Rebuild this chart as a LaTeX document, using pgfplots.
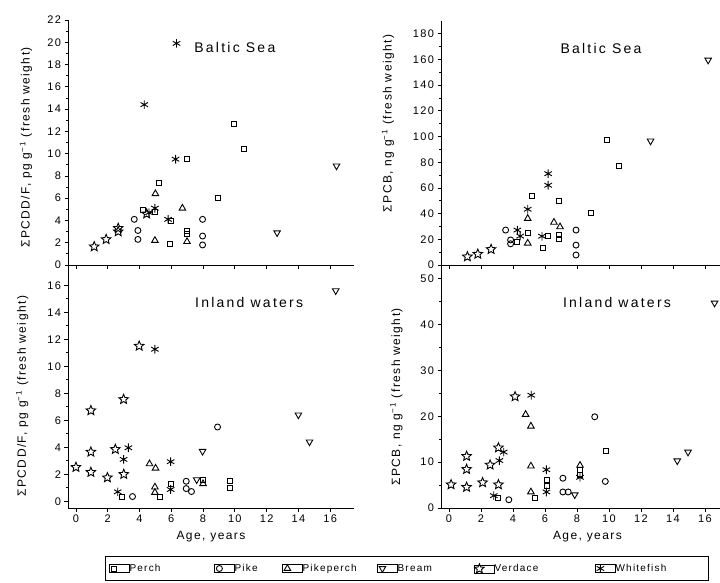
\documentclass[border=0pt]{standalone}
\usepackage{fontspec}
\setmainfont{Liberation Sans}[LetterSpace=12]
\newfontfamily\spaced{Liberation Sans}[LetterSpace=16]
\usepackage{pgfplots}
\pgfplotsset{compat=1.18}
\usetikzlibrary{plotmarks}
\pgfdeclareplotmark{ostar}{%
  \pgfpathmoveto{\pgfqpointpolar{90}{\pgfplotmarksize}}%
  \pgfpathlineto{\pgfqpointpolar{126}{0.45\pgfplotmarksize}}%
  \pgfpathlineto{\pgfqpointpolar{162}{\pgfplotmarksize}}%
  \pgfpathlineto{\pgfqpointpolar{198}{0.45\pgfplotmarksize}}%
  \pgfpathlineto{\pgfqpointpolar{234}{\pgfplotmarksize}}%
  \pgfpathlineto{\pgfqpointpolar{270}{0.45\pgfplotmarksize}}%
  \pgfpathlineto{\pgfqpointpolar{306}{\pgfplotmarksize}}%
  \pgfpathlineto{\pgfqpointpolar{342}{0.45\pgfplotmarksize}}%
  \pgfpathlineto{\pgfqpointpolar{18}{\pgfplotmarksize}}%
  \pgfpathlineto{\pgfqpointpolar{54}{0.45\pgfplotmarksize}}%
  \pgfpathclose
  \pgfusepathqstroke
}
\pgfplotsset{
  panel/.style={
    scale only axis,
    axis lines=left,
    axis line style={-, line width=0.9pt},
    tick align=outside,
    major tick length=3.5pt,
    minor tick length=2pt,
    every tick/.style={black, line width=0.8pt},
    tick label style={font=\fontsize{11}{13}\selectfont},
    /pgf/number format/assume math mode=true,
    xtick={0,2,...,16},
    label style={font=\fontsize{12}{14}\selectfont},
    clip=false,
  },
  perch/.style={only marks, mark=square, mark size=2.5pt, mark options={line width=0.9pt, black}},
  pike/.style={only marks, mark=o, mark size=3pt, mark options={line width=0.9pt, black}},
  pikeperch/.style={only marks, mark=triangle, mark size=3.8pt, mark options={line width=0.9pt, black}},
  bream/.style={only marks, mark=triangle, mark size=3.8pt, mark options={line width=0.9pt, black, rotate=180}},
  verdace/.style={only marks, mark=ostar, mark size=5pt, mark options={line width=0.9pt, black}},
  whitefish/.style={only marks, mark=asterisk, mark size=4.3pt, mark options={line width=0.9pt, black}},
  legend image code/.code={\path (0pt,-4pt) rectangle (20pt,4pt); \draw[#1] plot coordinates {(5pt,0pt)};},
  legendaxis/.style={hide axis, scale only axis, width=1pt, height=1pt, xmin=0, xmax=1, ymin=0, ymax=1,
    anchor=south west,
    legend style={at={(0,0.5)}, anchor=west, draw=none, fill=none, inner sep=0pt,
      nodes={inner sep=0pt}, font=\fontsize{10}{12}\selectfont},
    legend cell align=left},
}
\begin{document}
\begin{tikzpicture}
% ---------- legend frame and entries (one entry per hidden axis)
\draw[line width=0.9pt] (105pt,1.5pt) rectangle (708pt,26pt);
\begin{axis}[legendaxis, at={(109pt,13pt)}]
\addlegendimage{perch}\addlegendentry{Perch}
\end{axis}
\begin{axis}[legendaxis, at={(214pt,13pt)}]
\addlegendimage{pike}\addlegendentry{Pike}
\end{axis}
\begin{axis}[legendaxis, at={(282pt,13pt)}]
\addlegendimage{pikeperch}\addlegendentry{Pikeperch}
\end{axis}
\begin{axis}[legendaxis, at={(377pt,13pt)}]
\addlegendimage{bream}\addlegendentry{Bream}
\end{axis}
\begin{axis}[legendaxis, at={(474pt,13pt)}]
\addlegendimage{verdace}\addlegendentry{Verdace}
\end{axis}
\begin{axis}[legendaxis, at={(595pt,13pt)}]
\addlegendimage{whitefish}\addlegendentry{Whitefish}
\end{axis}
% ---------- top left: PCDD/F Baltic Sea
\begin{axis}[panel, at={(68pt,317pt)}, anchor=south west, width=286pt, height=245pt,
  xmin=-0.5, xmax=17.5, ymin=0, ymax=22, ytick={0,2,...,22}, minor y tick num=1,
  xticklabels={},
  ylabel={ΣPCDD/F, pg g\textsuperscript{−1} (fresh weight)},
  ylabel style={at={(axis description cs:-0.147,0.48)}, anchor=center}]
\addplot[perch] coordinates {(9.96,12.7) (10.6,10.4) (6.96,9.5) (5.24,7.4) (8.95,6.0) (4.23,4.9) (4.97,4.75) (6.0,4.0) (6.96,3.1) (6.96,2.8) (5.9,1.85)};
\addplot[pike] coordinates {(3.67,4.1) (3.9,3.1) (3.9,2.3) (7.97,4.1) (7.97,2.6) (7.97,1.8)};
\addplot[pikeperch] coordinates {(5.0,6.4) (6.7,5.1) (4.97,2.2) (6.99,2.1)};
\addplot[bream] coordinates {(16.4,8.9) (12.66,2.9)};
\addplot[verdace] coordinates {(1.15,1.65) (1.9,2.3) (2.66,3.0) (2.66,3.3) (4.45,4.6)};
\addplot[whitefish] coordinates {(6.33,19.9) (4.3,14.4) (6.27,9.5) (4.6,4.7) (4.97,5.1) (5.8,4.1)};
\node[font=\spaced\fontsize{14}{16}\selectfont] at (axis cs:10.0,19.5) {Baltic Sea};
\end{axis}
% ---------- bottom left: PCDD/F Inland waters
\begin{axis}[panel, at={(68pt,74pt)}, anchor=south west, width=286pt, height=243pt,
  xmin=-0.5, xmax=17.5, ymin=-0.5, ymax=17.5, ytick={0,2,...,16}, minor y tick num=1,
  xlabel={Age, years},
  xlabel style={at={(axis description cs:0.5,-0.118)}, anchor=center},
  ylabel={ΣPCDD/F, pg g\textsuperscript{−1} (fresh weight)},
  ylabel style={at={(axis description cs:-0.16,0.46)}, anchor=center}]
\addplot[perch] coordinates {(2.9,0.32) (5.26,0.32) (5.96,1.25) (7.97,1.6) (9.67,1.5) (9.67,0.97)};
\addplot[pike] coordinates {(3.56,0.35) (8.91,5.5) (6.94,1.48) (6.94,0.94) (7.27,0.72)};
\addplot[pikeperch] coordinates {(4.63,2.77) (5.01,2.45) (4.97,1.05) (4.97,0.65) (8.0,1.3)};
\addplot[bream] coordinates {(16.35,15.6) (14.0,6.4) (14.7,4.4) (7.97,3.7) (7.6,1.6)};
\addplot[verdace] coordinates {(3.98,11.5) (3.0,7.55) (0.94,6.72) (0,2.52) (0.94,3.65) (0.94,2.15) (1.98,1.75) (2.48,3.85) (3.01,2.0)};
\addplot[whitefish] coordinates {(4.97,11.26) (3.3,3.96) (3.0,3.1) (5.96,2.93) (2.63,0.7) (5.96,0.87)};
\node[font=\spaced\fontsize{14}{16}\selectfont] at (axis cs:10.9,14.7) {Inland waters};
\end{axis}
% ---------- top right: PCB Baltic Sea
\begin{axis}[panel, at={(441pt,317pt)}, anchor=south west, width=279pt, height=244pt,
  xmin=-0.5, xmax=16.94, ymin=0, ymax=190, ytick={0,20,...,180}, minor y tick num=1,
  xticklabels={},
  ylabel={ΣPCB, ng g\textsuperscript{−1} (fresh weight)},
  ylabel style={at={(axis description cs:-0.19,0.58)}, anchor=center}]
\addplot[perch] coordinates {(9.86,97.5) (10.6,76.8) (8.86,40.9) (5.17,53.5) (6.9,49.7) (4.92,25.1) (4.23,18.1) (6.2,22.5) (6.9,23.3) (6.9,19.9) (5.9,12.9)};
\addplot[pike] coordinates {(3.54,27.2) (3.85,19.5) (3.85,16.5) (7.94,27.2) (7.94,15.5) (7.94,7.8)};
\addplot[pikeperch] coordinates {(4.92,36.2) (4.92,17.0) (6.56,33.2) (6.94,29.7)};
\addplot[bream] coordinates {(16.2,159.6) (12.6,96.6)};
\addplot[verdace] coordinates {(1.15,6.5) (1.8,8.5) (2.63,12.2)};
\addplot[whitefish] coordinates {(6.2,71.1) (6.2,62.1) (4.92,43.4) (4.27,27.2) (4.45,22.5) (5.81,22.4)};
\node[font=\spaced\fontsize{14}{16}\selectfont] at (axis cs:9.5,168.6) {Baltic Sea};
\end{axis}
% ---------- bottom right: PCB Inland waters
\begin{axis}[panel, at={(441pt,74pt)}, anchor=south west, width=279pt, height=243pt,
  xmin=-0.5, xmax=16.94, ymin=0, ymax=53, ytick={0,10,...,50}, minor y tick num=1,
  xlabel={Age, years},
  xlabel style={at={(axis description cs:0.525,-0.118)}, anchor=center},
  ylabel={ΣPCB, ng g\textsuperscript{−1} (fresh weight)},
  ylabel style={at={(axis description cs:-0.16,0.457)}, anchor=center}]
\addplot[perch] coordinates {(9.84,12.5) (6.1,6.1) (6.1,4.8) (5.38,2.3) (3.05,2.2) (8.19,8.4) (8.19,7.3)};
\addplot[pike] coordinates {(9.11,19.9) (9.77,5.8) (7.12,6.5) (7.12,3.5) (7.45,3.5) (3.74,1.8)};
\addplot[pikeperch] coordinates {(4.79,20.4) (5.12,17.85) (5.12,9.15) (5.12,3.5) (8.19,9.3)};
\addplot[bream] coordinates {(16.6,44.7) (14.27,10.3) (14.94,12.2) (7.86,2.9)};
\addplot[verdace] coordinates {(0.13,5.1) (1.1,11.3) (1.1,8.45) (1.1,4.55) (2.1,5.55) (2.57,9.4) (3.09,13.15) (3.09,5.1) (4.13,24.3)};
\addplot[whitefish] coordinates {(5.14,24.6) (3.42,12.2) (3.15,10.35) (2.8,2.7) (6.09,8.35) (6.09,3.5) (8.19,6.7)};
\node[font=\spaced\fontsize{14}{16}\selectfont] at (axis cs:10.5,44.8) {Inland waters};
\end{axis}
\pgfresetboundingbox
\path[use as bounding box] (0pt,0pt) rectangle (720pt,582pt);
\end{tikzpicture}
\end{document}
